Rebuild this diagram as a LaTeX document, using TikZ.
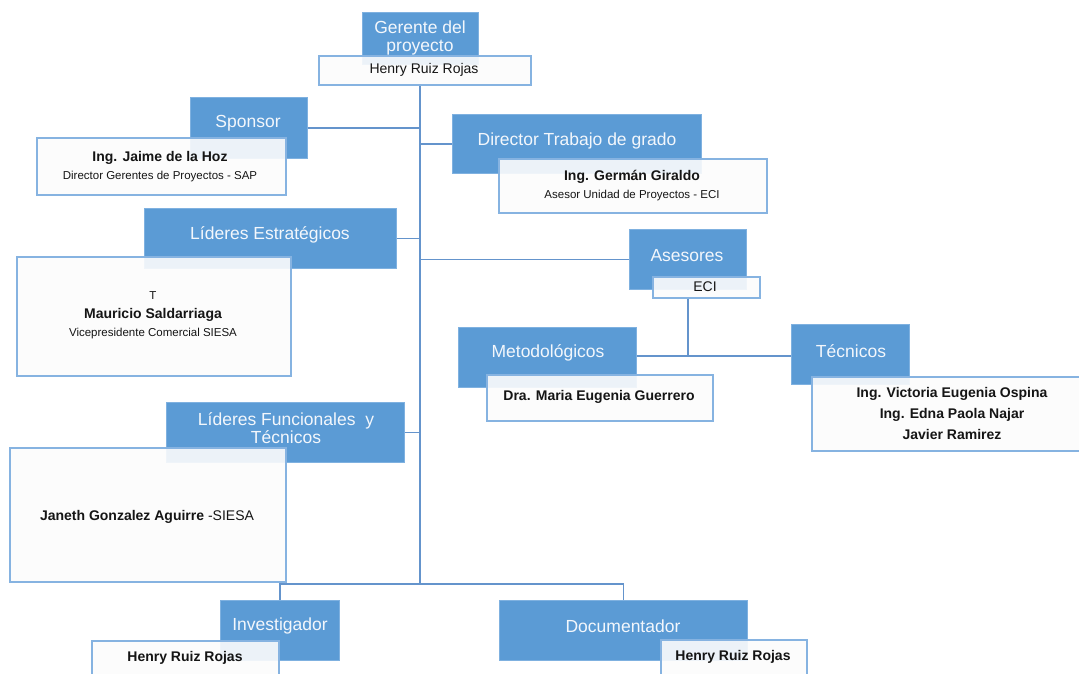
\documentclass[tikz,border=0pt]{standalone}
\usepackage{fontspec}
\setmainfont{Liberation Sans}
\definecolor{accent}{HTML}{5B9BD5}
\definecolor{accentedge}{HTML}{7FB1E0}
\definecolor{boxedge}{HTML}{86B3E1}
\definecolor{paper}{HTML}{FCFCFC}
\definecolor{wire}{HTML}{6494CC}
\definecolor{headfg}{HTML}{F3F7FC}
\definecolor{ink}{HTML}{151515}
\begin{document}
\begin{tikzpicture}[x=1pt,y=-1pt,
  bluebox/.style={fill=accent, draw=accentedge, line width=0.6pt, anchor=north west, inner sep=0pt},
  namebox/.style={fill=paper, fill opacity=0.9, draw=boxedge, line width=1.6pt, anchor=north west, inner sep=0pt},
  link/.style={draw=wire, line width=1.4pt},
  headtxt/.style={font=\fontsize{17.5}{18}\selectfont, text=headfg, align=center, inner sep=0pt},
  nametxt/.style={font=\fontsize{14}{21}\selectfont\bfseries, text=ink, align=center, inner sep=0pt},
  subtxt/.style={font=\fontsize{11.5}{14}\selectfont, text=ink, align=center, inner sep=0pt},
  plaintxt/.style={font=\fontsize{14}{17}\selectfont, text=ink, align=center, inner sep=0pt}]
\clip (0,0) rectangle (1079,673);
\fill[white] (0,0) rectangle (1079,673);

% trunk and junction points
\coordinate (trunktop) at (420,84);
\coordinate (trunkbot) at (420,584);
\coordinate (eciJ) at (688,356);

% role boxes
\node[bluebox, minimum width=116pt, minimum height=52pt] (ger) at (362,12) {};
\node[bluebox, minimum width=117pt, minimum height=61pt] (spon) at (190,97) {};
\node[bluebox, minimum width=249pt, minimum height=59pt] (dir) at (452,114) {};
\node[bluebox, minimum width=252pt, minimum height=60pt] (lest) at (144,208) {};
\node[bluebox, minimum width=117pt, minimum height=60pt] (ases) at (629,229) {};
\node[bluebox, minimum width=178pt, minimum height=60pt] (met) at (458,327) {};
\node[bluebox, minimum width=118pt, minimum height=60pt] (tec) at (791,324) {};
\node[bluebox, minimum width=238pt, minimum height=60pt] (lfun) at (166,402) {};
\node[bluebox, minimum width=119pt, minimum height=60pt] (inv) at (220,600) {};
\node[bluebox, minimum width=248pt, minimum height=60pt] (doc) at (499,600) {};

% connectors
\draw[link, line width=1.8pt] (trunktop) -- (trunkbot);
\draw[link] (spon.east) -- (spon.east -| trunktop);
\draw[link] (dir.west) -- (dir.west -| trunktop);
\draw[link] (lest.east) -- (lest.east -| trunktop);
\draw[link] (ases.west) -- (ases.west -| trunktop);
\draw[link] (lfun.east) -- (lfun.east -| trunktop);
\draw[link] (inv.north) |- (trunkbot) -| (doc.north);
\draw[link] (met.east |- eciJ) -- (tec.west |- eciJ);

% role titles
\node[headtxt] (gerT) at (420,38) {Gerente del\\proyecto};
\node[headtxt] (sponT) at (248,123) {Sponsor};
\node[headtxt] (dirT) at (577,141) {Director Trabajo de grado};
\node[headtxt] (lestT) at (270,235) {Líderes Estratégicos};
\node[headtxt] (asesT) at (687,256) {Asesores};
\node[headtxt] (metT) at (548,353) {Metodológicos};
\node[headtxt] (tecT) at (851,351) {Técnicos};
\node[headtxt] (lfunT) at (286,428) {Líderes Funcionales\ \ y\\Técnicos};
\node[headtxt] (invT) at (280,626) {Investigador};
\node[headtxt] (docT) at (623,626) {Documentador};

% name boxes
\node[namebox, minimum width=212pt, minimum height=29pt] (gerW) at (318,55) {};
\node[namebox, minimum width=249pt, minimum height=57pt] (sponW) at (36,137) {};
\node[namebox, minimum width=268pt, minimum height=54pt] (dirW) at (498,158) {};
\node[namebox, minimum width=274pt, minimum height=119pt] (lestW) at (16,256) {};
\node[namebox, minimum width=107pt, minimum height=21pt] (asesW) at (652,276) {};
\node[namebox, minimum width=226pt, minimum height=46pt] (metW) at (486,374) {};
\node[namebox, minimum width=272pt, minimum height=74pt] (tecW) at (811,376) {};
\node[namebox, minimum width=276pt, minimum height=134pt] (lfunW) at (9,447) {};
\node[namebox, minimum width=187pt, minimum height=44pt] (invW) at (91,640) {};
\node[namebox, minimum width=146pt, minimum height=44pt] (docW) at (660,639) {};

\draw[link] (asesW.south -| eciJ) -- (eciJ);

% names
\node[plaintxt] (gerN) at (424,70) {Henry Ruiz Rojas};
\node[nametxt] (sponN) at (160,158) {Ing. Jaime de la Hoz};
\node[subtxt] (sponS) at (160,177) {Director Gerentes de Proyectos - SAP};
\node[nametxt] (dirN) at (632,177) {Ing. Germán Giraldo};
\node[subtxt] (dirS) at (632,196) {Asesor Unidad de Proyectos - ECI};
\node[subtxt] (lestA) at (153,296) {T};
\node[nametxt] (lestN) at (153,315) {Mauricio Saldarriaga};
\node[subtxt] (lestS) at (153,334) {Vicepresidente Comercial SIESA};
\node[plaintxt] (asesN) at (705,287) {ECI};
\node[nametxt] (metN) at (599,397) {Dra. Maria Eugenia Guerrero};
\node[nametxt] (tecN) at (952,413) {Ing. Victoria Eugenia Ospina\\Ing. Edna Paola Najar\\Javier Ramirez};
\node[nametxt] (lfunN) at (147,517) {Janeth Gonzalez Aguirre \mdseries-SIESA};
\node[nametxt] (invN) at (185,658) {Henry Ruiz Rojas};
\node[nametxt] (docN) at (733,657) {Henry Ruiz Rojas};
\end{tikzpicture}
\end{document}
